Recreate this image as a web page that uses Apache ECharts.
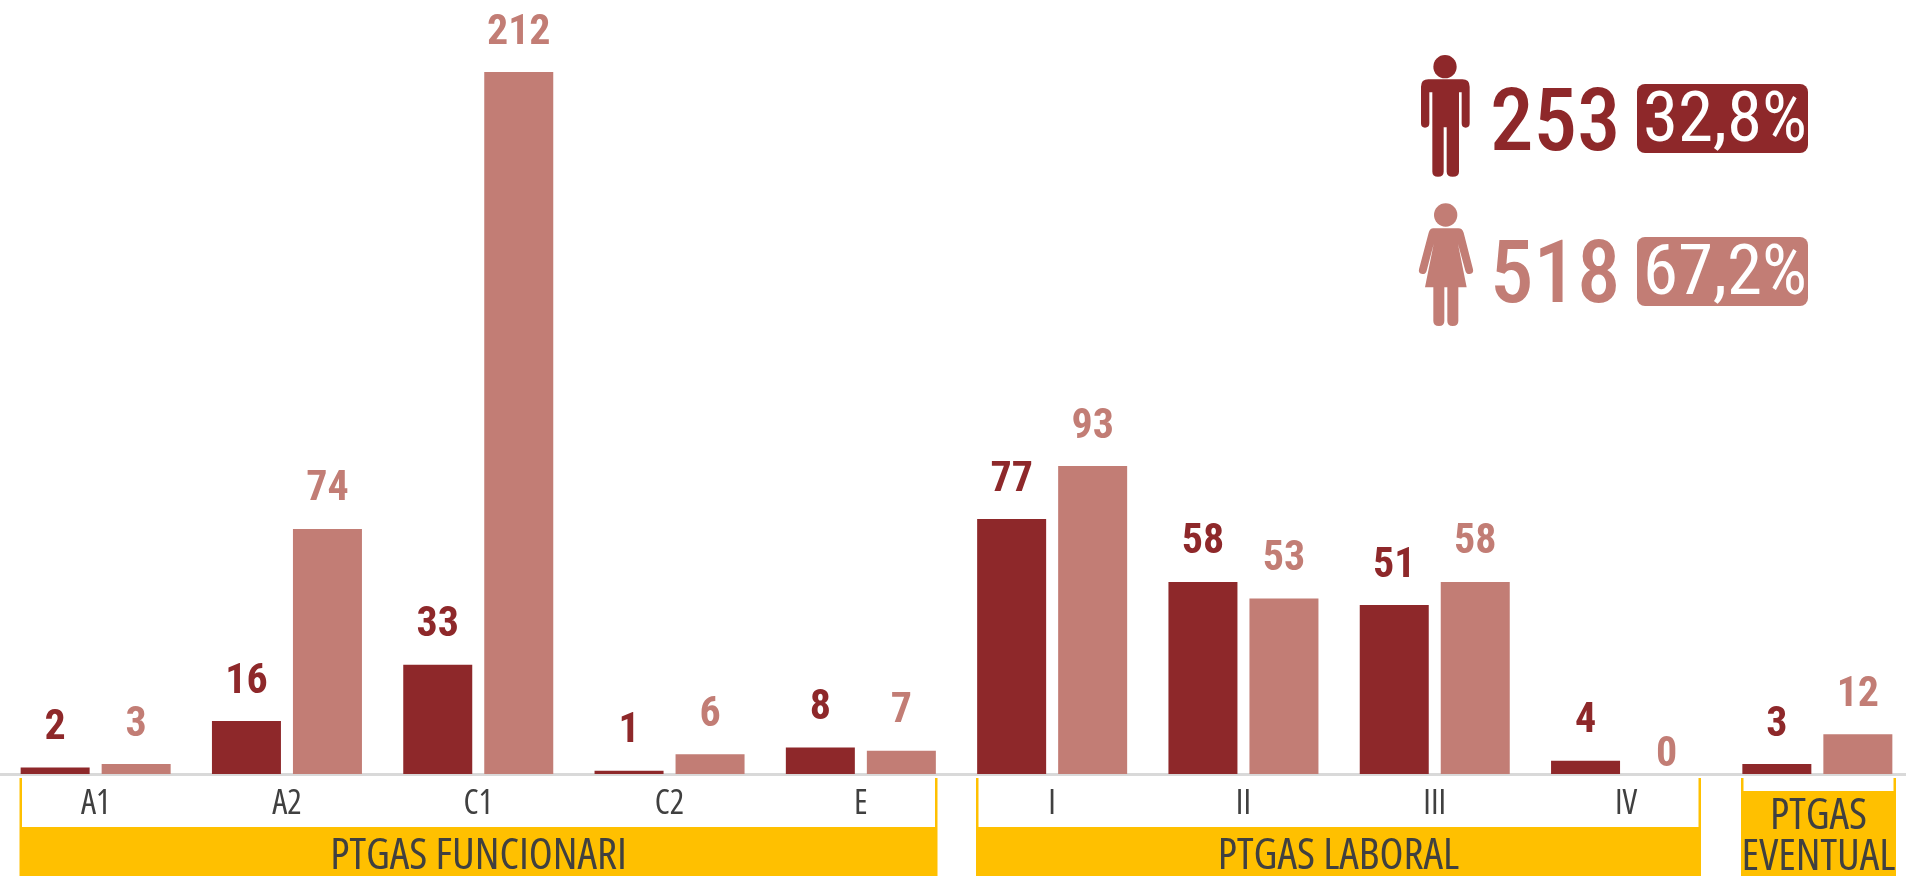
<!DOCTYPE html>
<html><head><meta charset="utf-8">
<style>html,body{margin:0;padding:0;background:#fff}#c{width:1906px;height:876px}</style>
<script src="https://cdn.jsdelivr.net/npm/echarts@6/dist/echarts.min.js"></script>
</head><body><div id="c"></div>
<script>
const categories = ['A1','A2','C1','C2','E','I','II','III','IV',''];
const men = [2,16,33,1,8,77,58,51,4,3];
const women = [3,74,212,6,7,93,53,58,0,12];
const menTotal = '253', menPct = '32,8%';
const womenTotal = '518', womenPct = '67,2%';

const DARK = '#8E282A', LIGHT = '#C27D75', GOLD = '#FFC000', TXT = '#404040';
const FONT = '"Roboto Condensed",Roboto,sans-serif';
const THIN = '"Open Sans",sans-serif';

function labelled(values) {
  return values.map(v => v === 0
    ? {value: v, label: {offset: [0, 20]}}
    : v);
}
const MAN = 'M85 118H187Q209 118 209 140V250Q209 263 197 263Q185 263 185 250V157H177V395Q177 410 158 410Q140 410 140 395V262H131V395Q131 410 114 410Q97 410 97 395V157H88V250Q88 263 75 263Q63 263 63 250V140Q63 118 85 118Z';
const WOMAN = 'M100 565H175Q187 565 191 578L219 688Q222 700 209 702Q199 703 196 692L174 612L200 742H175V843Q175 858 158 858Q142 858 142 843V742H133V843Q133 858 117 858Q100 858 100 843V742H75L101 612L80 692Q77 703 67 702Q54 700 57 688L86 578Q90 565 100 565Z';
echarts.graphic.registerShape('manIcon', echarts.graphic.extendPath(MAN, {}));
echarts.graphic.registerShape('womanIcon', echarts.graphic.extendPath(WOMAN, {}));

function band(x0, x1, yTop, yBand, lines) {
  const out = [];
  const g = {fill: GOLD};
  out.push({type:'rect', shape:{x:x0,y:yBand,width:x1-x0,height:876-yBand}, style:g});
  out.push({type:'rect', shape:{x:x0,y:yTop,width:2.5,height:yBand-yTop}, style:g});
  out.push({type:'rect', shape:{x:x1-2.5,y:yTop,width:2.5,height:yBand-yTop}, style:g});
  lines.forEach(l => out.push({type:'text', x:(x0+x1)/2+(l.dx||0), y:l.y, scaleX:l.sx||1,
    style:{text:l.t, fill:TXT, font:`extra-condensed ${l.fs}px ${THIN}`, textAlign:'center', textVerticalAlign:'middle'}}));
  return out;
}
function big(x, y, text, color, fs, weight) {
  return {type:'text', x, y, style:{text, fill:color, font:`${weight||500} ${fs}px ${FONT}`, textAlign:'left', textVerticalAlign:'middle'}};
}
const graphics = [
  ...band(19.5,937.5,778,827,[{t:'PTGAS FUNCIONARI',y:856,fs:44}]),
  ...band(976,1701,778,827,[{t:'PTGAS LABORAL',y:856,fs:44}]),
  ...band(1741,1896,778,791,[{t:'PTGAS',y:816,fs:44},{t:'EVENTUAL',y:857,fs:44}]),
  {type:'group', x:1400, y:40, scaleX:1/3, scaleY:1/3, children:[
    {type:'circle', shape:{cx:135,cy:80,r:35}, style:{fill:DARK}},
    {type:'manIcon', style:{fill:DARK}},
    {type:'circle', shape:{cx:137,cy:525,r:35}, style:{fill:LIGHT}},
    {type:'womanIcon', style:{fill:LIGHT}}
  ]},
  big(1490,128,menTotal,DARK,87),
  big(1490,280,womenTotal,LIGHT,87),
  {type:'rect', shape:{x:1637,y:84,width:171,height:69,r:8}, style:{fill:DARK}},
  {type:'rect', shape:{x:1637,y:237,width:171,height:69,r:8}, style:{fill:LIGHT}},
  big(1643,123,menPct,'#fff',71,400),
  big(1643,276,womenPct,'#fff',71,400)
];
const barBase = {type:'bar', barWidth:69, barGap:'17.4%', animation:false,
  label:{show:true, position:'top', distance:18, fontFamily:FONT, fontWeight:'bold', fontSize:42}};
const chart = echarts.init(document.getElementById('c'), null, {renderer:'canvas'});
chart.setOption({
  animation:false, backgroundColor:'#fff',
  grid:{left:0, width:1913, top:72, bottom:102, containLabel:false, outerBoundsMode:'none'},
  xAxis:{type:'category', data:categories, axisTick:{show:false},
    axisLine:{lineStyle:{color:'#D9D9D9', width:3}},
    axisLabel:{color:TXT, fontFamily:THIN, fontWeight:'extra-condensed', fontSize:34, margin:13, interval:0}},
  yAxis:{type:'value', min:0, max:212, show:false, splitLine:{show:false}},
  series:[
    {...barBase, name:'Homes', data:labelled(men), itemStyle:{color:DARK}, label:{...barBase.label, color:DARK}},
    {...barBase, name:'Dones', data:labelled(women), itemStyle:{color:LIGHT}, label:{...barBase.label, color:LIGHT}}
  ],
  graphic:graphics
});
</script></body></html>
